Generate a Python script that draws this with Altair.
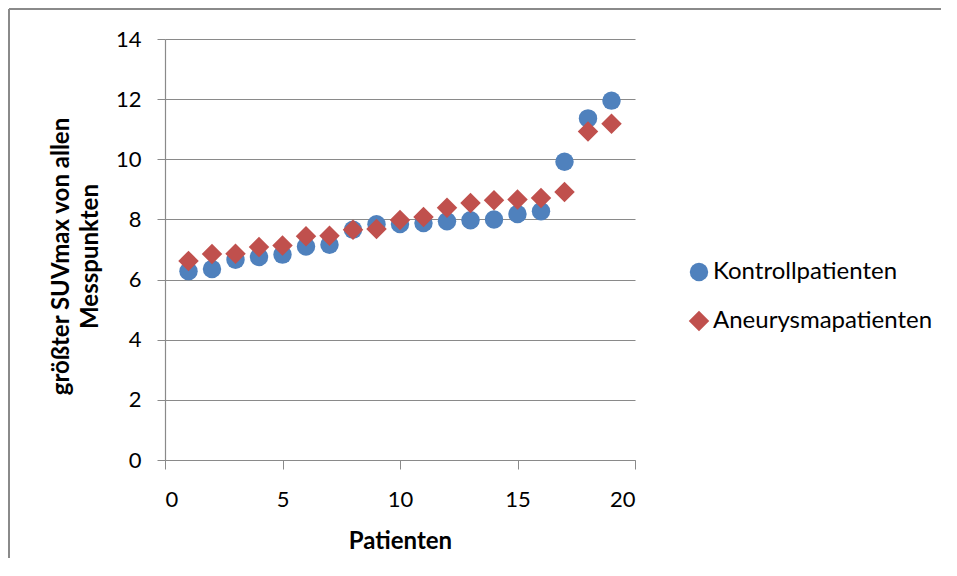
import altair as alt
import pandas as pd

patients = list(range(1, 20))
kontroll = [6.28, 6.35, 6.66, 6.75, 6.83, 7.10, 7.16, 7.66, 7.84, 7.85, 7.88, 7.94, 7.97, 8.00, 8.18, 8.27, 9.92, 11.36, 11.95]
aneurysma = [6.62, 6.85, 6.86, 7.08, 7.13, 7.44, 7.46, 7.66, 7.68, 7.98, 8.08, 8.39, 8.55, 8.64, 8.66, 8.71, 8.91, 10.92, 11.18]
series = ["Kontrollpatienten", "Aneurysmapatienten"]
x_ticks = [0, 5, 10, 15, 20]
y_ticks = [0, 2, 4, 6, 8, 10, 12, 14]

rows = []
for s, vals in zip(series, [kontroll, aneurysma]):
    for p, v in zip(patients, vals):
        rows.append({"Patient": p, "Wert": v, "Serie": s})
df = pd.DataFrame(rows)

FONT = "Lato"
GRAY = "#8a8a8a"

points = alt.Chart(df).mark_point(filled=True, opacity=1).encode(
    x=alt.X("Patient:Q", scale=alt.Scale(domain=[0, 20], nice=False),
            axis=alt.Axis(values=x_ticks, title="Patienten", grid=False,
                          labelFontSize=22, titleFontSize=24, titleFontWeight="bold",
                          tickSize=9, labelPadding=20, titlePadding=19)),
    y=alt.Y("Wert:Q", scale=alt.Scale(domain=[0, 14], nice=False),
            axis=alt.Axis(values=y_ticks, title=["größter SUVmax von allen", "Messpunkten"],
                          grid=True, labelFontSize=22, titleFontSize=24, titleFontWeight="bold",
                          titleLineHeight=29, tickSize=8, labelPadding=16, titlePadding=13,
                          titleY=217)),
    color=alt.Color("Serie:N", scale=alt.Scale(domain=series, range=["#4F81BD", "#C0504D"]),
                    legend=alt.Legend(title=None, orient="none", legendX=522, legendY=221,
                                      labelFontSize=24, symbolSize=270, rowPadding=25,
                                      labelOffset=2, symbolStrokeWidth=0, labelLimit=0)),
    shape=alt.Shape("Serie:N", scale=alt.Scale(domain=series, range=["circle", "diamond"]),
                    legend=None),
    size=alt.Size("Serie:N", scale=alt.Scale(domain=series, range=[340, 420]), legend=None),
)

frame_top = alt.Chart(df).mark_rule(color=GRAY, strokeWidth=1.5, clip=False).encode(
    x=alt.value(-156), x2=alt.value(776), y=alt.value(-30)
)
frame_left = alt.Chart(df).mark_rule(color=GRAY, strokeWidth=1.5, clip=False).encode(
    x=alt.value(-156), y=alt.value(-30), y2=alt.value(519)
)

chart = alt.layer(frame_top, frame_left, points).properties(
    width=470, height=421,
    autosize=alt.AutoSizeParams(type="none"),
    padding={"left": 157, "top": 31, "right": 308, "bottom": 100},
).configure_view(stroke="transparent", strokeWidth=0).configure_axis(
    domainColor=GRAY, tickColor=GRAY, gridColor=GRAY, gridWidth=1.2, domainWidth=1.2,
    labelFont=FONT, titleFont=FONT, labelColor="black", titleColor="black"
).configure_legend(labelFont=FONT, labelColor="black")

chart.save("out.html", embed_options={"renderer": "svg", "actions": False})
